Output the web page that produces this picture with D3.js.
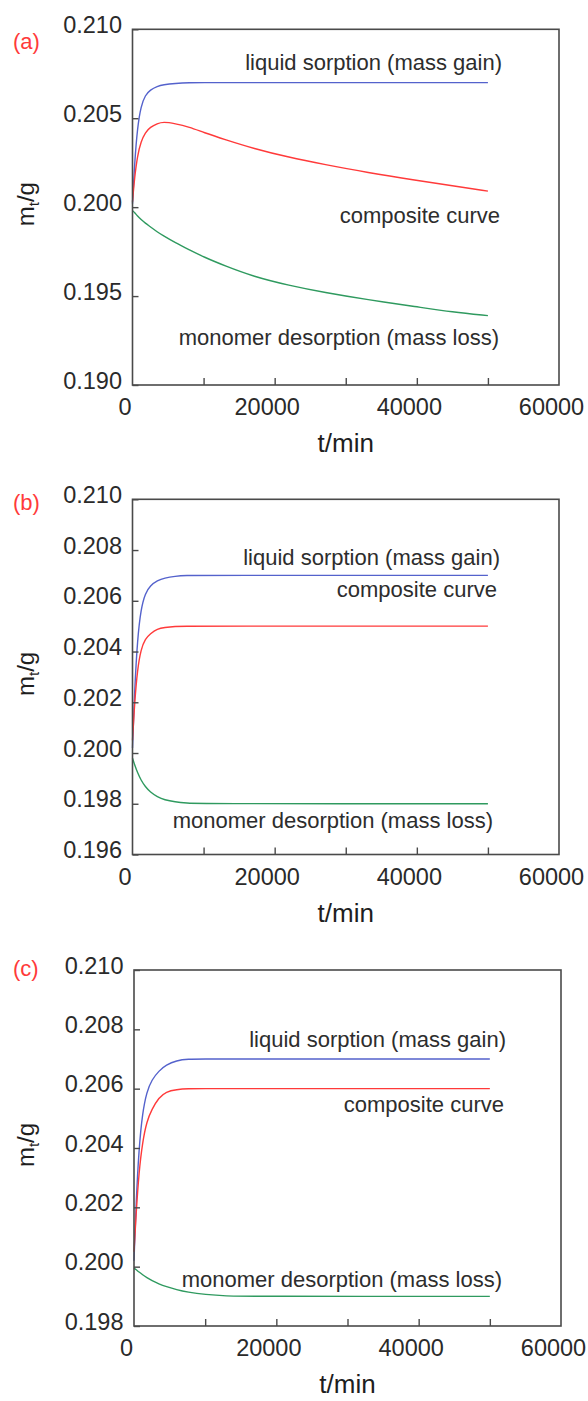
<!DOCTYPE html>
<html>
<head>
<meta charset="utf-8">
<script src="https://cdn.jsdelivr.net/npm/d3@7"></script>
<style>
  body { margin: 0; background: #fff; }
  svg { display: block; font-family: "Liberation Sans", Arial, sans-serif; }
</style>
</head>
<body>
<svg></svg>
<script>
// time grid + curves (m_t in g)
const timeA = [0, 300, 700, 1200, 1800, 2500, 3500, 4300, 6000, 8000, 10000, 13000, 17000, 22000, 27000, 33000, 40000, 45000, 50000];
const liquidA = [0.2002, 0.2025, 0.2045, 0.2057, 0.2063, 0.2066, 0.2068, 0.20688, 0.20696, 0.207, 0.207, 0.207, 0.207, 0.207, 0.207, 0.207, 0.207, 0.207, 0.207];
const compositeA = [0.2003, 0.2017, 0.2029, 0.2037, 0.2042, 0.2045, 0.2047, 0.2048, 0.2047, 0.2045, 0.2042, 0.2038, 0.2033, 0.2028, 0.2024, 0.20195, 0.2015, 0.2012, 0.2009];
const monomerA = [0.1998, 0.1997, 0.1995, 0.1993, 0.1991, 0.1989, 0.1986, 0.1984, 0.198, 0.1976, 0.1972, 0.1967, 0.1961, 0.1956, 0.1952, 0.1948, 0.1944, 0.1941, 0.1939];

const timeB = [0, 300, 700, 1200, 1800, 2500, 3500, 4500, 6000, 7500, 10000, 50000];
const liquidB = [0.2002, 0.2025, 0.2045, 0.2057, 0.2063, 0.2066, 0.2068, 0.2069, 0.20697, 0.207, 0.207, 0.207];
const compositeB = [0.2005, 0.202, 0.2033, 0.2041, 0.2045, 0.2047, 0.2049, 0.20495, 0.20499, 0.205, 0.205, 0.205];
const monomerB = [0.1998, 0.19953, 0.19923, 0.19893, 0.19867, 0.19846, 0.19827, 0.19815, 0.19807, 0.19803, 0.198, 0.198];

const timeC = [0, 300, 700, 1200, 1800, 2500, 3500, 4500, 6000, 7500, 10000, 13000, 16000, 50000];
const liquidC = [0.2002, 0.2022, 0.204, 0.2052, 0.2059, 0.2063, 0.2066, 0.2068, 0.20695, 0.207, 0.207, 0.207, 0.207, 0.207];
const compositeC = [0.2005, 0.2018, 0.2032, 0.2042, 0.2049, 0.2053, 0.2057, 0.2059, 0.20597, 0.206, 0.206, 0.206, 0.206, 0.206];
const monomerC = [0.19995, 0.1999, 0.19982, 0.19973, 0.19963, 0.19953, 0.19942, 0.19933, 0.19922, 0.19914, 0.19906, 0.19901, 0.199, 0.199];

const yTicksA = [0.19, 0.195, 0.2, 0.205, 0.21];
const yTicksB = [0.196, 0.198, 0.2, 0.202, 0.204, 0.206, 0.208, 0.21];
const yTicksC = [0.198, 0.2, 0.202, 0.204, 0.206, 0.208, 0.21];

const xTickLabels = [0, 20000, 40000, 60000];
const xTickMarks = [10000, 20000, 30000, 40000, 50000];

const panelNames = ['(a)', '(b)', '(c)'];
const curveNames = ['liquid sorption (mass gain)', 'composite curve', 'monomer desorption (mass loss)'];
const curveColors = ['#5462cc', '#ff3a3a', '#2f9a5f'];

const w = 588;
const h = 1401;

const svg = d3.select('svg').attr('width', w).attr('height', h);

const panels = [
  {
    name: panelNames[0], time: timeA, series: [liquidA, compositeA, monomerA],
    yDomain: [0.19, 0.21], yTicks: yTicksA,
    left: 132.5, right: 559, top: 29.3, bottom: 385, nameY: 49,
    notes: [[502, 70], [500, 223], [499, 345]]
  },
  {
    name: panelNames[1], time: timeB, series: [liquidB, compositeB, monomerB],
    yDomain: [0.196, 0.21], yTicks: yTicksB,
    left: 132.5, right: 559, top: 499.3, bottom: 854.5, nameY: 510,
    notes: [[500, 565], [497, 597], [493, 828]]
  },
  {
    name: panelNames[2], time: timeC, series: [liquidC, compositeC, monomerC],
    yDomain: [0.198, 0.21], yTicks: yTicksC,
    left: 134, right: 561, top: 970, bottom: 1326, nameY: 976,
    notes: [[506, 1047], [504, 1112], [502, 1287]]
  }
];

const drawPanel = p => {
  const x = d3.scaleLinear().domain([0, 60000]).range([p.left, p.right]);
  const y = d3.scaleLinear().domain(p.yDomain).range([p.bottom, p.top]);
  const g = svg.append('g');

  // curves
  const line = d3
    .line()
    .x(d => x(d[0]))
    .y(d => y(d[1]))
    .curve(d3.curveBasis);

  p.series.forEach((vals, i) => {
    g.append('path')
      .datum(p.time.map((t, j) => [t, vals[j]]))
      .attr('d', line)
      .attr('fill', 'none')
      .attr('stroke', curveColors[i])
      .attr('stroke-width', 1.4);
  });

  // frame
  g.append('rect')
    .attr('x', p.left)
    .attr('y', p.top)
    .attr('width', p.right - p.left)
    .attr('height', p.bottom - p.top)
    .attr('fill', 'none')
    .attr('stroke', '#4a4a4a')
    .attr('stroke-width', 1.6);

  // x ticks point inward, labels sit a bit to the left of them
  g.append('g')
    .attr('transform', `translate(0,${p.bottom})`)
    .style('color', '#4a4a4a')
    .call(d3.axisBottom(x).tickValues(xTickMarks).tickSize(-7).tickFormat(''))
    .call(a => a.select('.domain').remove())
    .selectAll('line')
    .attr('stroke-width', 1.4);

  g.append('g')
    .attr('transform', `translate(-8,${p.bottom})`)
    .call(d3.axisBottom(x).tickValues(xTickLabels).tickSize(0).tickFormat(d3.format('d')))
    .attr('font-size', 23.5)
    .attr('font-family', null)
    .call(a => a.select('.domain').remove())
    .selectAll('text')
    .attr('y', 30)
    .attr('dy', 0)
    .attr('fill', '#2a2a2a');

  // y ticks
  const yAxis = g.append('g')
    .attr('transform', `translate(${p.left},0)`)
    .style('color', '#4a4a4a')
    .call(d3.axisLeft(y).tickValues(p.yTicks).tickSize(-6).tickPadding(10.5).tickFormat(d3.format('.3f')))
    .attr('font-size', 23.5)
    .attr('font-family', null)
    .call(a => a.select('.domain').remove());
  yAxis.selectAll('line').attr('stroke-width', 1.4);
  yAxis.selectAll('text').attr('dy', 3).attr('fill', '#2a2a2a');

  // curve notes
  curveNames.forEach((txt, i) => {
    g.append('text')
      .attr('x', p.notes[i][0])
      .attr('y', p.notes[i][1])
      .attr('text-anchor', 'end')
      .attr('font-size', 22)
      .attr('fill', '#2d2d2d')
      .text(txt);
  });

  // panel letter
  g.append('text')
    .attr('x', 13)
    .attr('y', p.nameY)
    .attr('font-size', 22)
    .attr('fill', '#ff3a3a')
    .text(p.name);

  // axis titles
  g.append('text')
    .attr('x', (p.left + p.right) / 2)
    .attr('y', p.bottom + 67)
    .attr('text-anchor', 'middle')
    .attr('font-size', 26)
    .attr('fill', '#1e1e1e')
    .text('t/min');

  const yt = g.append('text')
    .attr('transform', `translate(34,${(p.top + p.bottom) / 2 - 3}) rotate(-90)`)
    .attr('text-anchor', 'middle')
    .attr('font-size', 24)
    .attr('fill', '#1e1e1e');
  yt.append('tspan').text('m');
  yt.append('tspan').attr('dy', 5).attr('font-size', 15).text('t');
  yt.append('tspan').attr('dy', -5).text('/g');
};

panels.forEach(drawPanel);
</script>
</body>
</html>
